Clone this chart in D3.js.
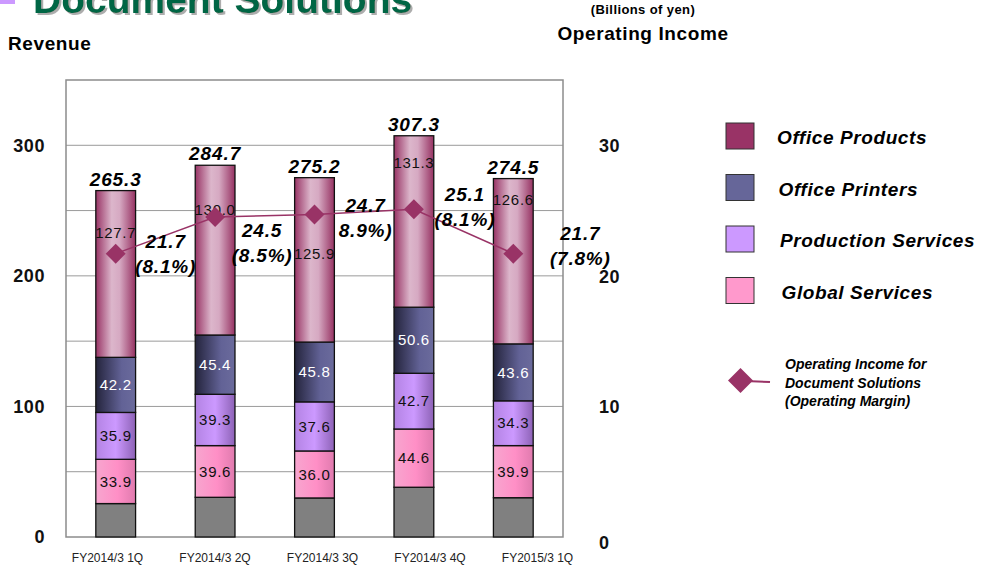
<!DOCTYPE html>
<html>
<head>
<meta charset="utf-8">
<script src="https://cdn.jsdelivr.net/npm/d3@7"></script>
<style>
    body { margin: 0; background: #fff; }
    svg { display: block; font-family: Arial, "Liberation Sans", sans-serif; }
</style>
</head>
<body>
<div id="chart"></div>
<script>
// quarters on the x axis
const quarters = ["FY2014/3 1Q", "FY2014/3 2Q", "FY2014/3 3Q", "FY2014/3 4Q", "FY2015/3 1Q"];

// revenue by segment (billions of yen)
const otherRevenue = [25.6, 30.4, 29.9, 38.1, 30.1];
const globalServices = [33.9, 39.6, 36.0, 44.6, 39.9];
const productionServices = [35.9, 39.3, 37.6, 42.7, 34.3];
const officePrinters = [42.2, 45.4, 45.8, 50.6, 43.6];
const officeProducts = [127.7, 130.0, 125.9, 131.3, 126.6];
const totals = ["265.3", "284.7", "275.2", "307.3", "274.5"];

// operating income and margin
const operatingIncome = [21.7, 24.5, 24.7, 25.1, 21.7];
const operatingMargin = ["(8.1%)", "(8.5%)", "8.9%)", "(8.1%)", "(7.8%)"];

const revenueTicks = [0, 100, 200, 300];
const incomeTicks = [0, 10, 20, 30];

// where labels sit (layout only)
const productsLabelAt = [233, 250.6, 217, 286.6, 258];
const incomeLabelOffset = [[50, -6], [47, 20], [51, -2], [51, -8], [67, -14]];

let vis = {};
vis.margin = {top: 80, right: 421, bottom: 34, left: 66};
vis.width = 984 - vis.margin.left - vis.margin.right;
vis.height = 571 - vis.margin.top - vis.margin.bottom;

vis.svg = d3.select("#chart").append("svg")
    .attr("width", 984)
    .attr("height", 571);

// gradients for the bar segments
let defs = vis.svg.append("defs");
const grads = {
    products: [["0%", "#983465"], ["40%", "#dcb6cb"], ["60%", "#d6a9c2"], ["100%", "#963262"]],
    printers: [["0%", "#24243c"], ["65%", "#626296"], ["100%", "#6b6b9c"]],
    production: [["0%", "#b383e3"], ["50%", "#cc99ff"], ["100%", "#8d62b6"]],
    global: [["0%", "#f7a6cf"], ["55%", "#ff8fc6"], ["100%", "#e07aae"]]
};
Object.keys(grads).forEach(k => {
    let g = defs.append("linearGradient").attr("id", "g-" + k)
        .attr("x1", "0").attr("x2", "1").attr("y1", "0").attr("y2", "0");
    grads[k].forEach(s => g.append("stop").attr("offset", s[0]).attr("stop-color", s[1]));
});
defs.append("filter").attr("id", "shadow")
    .append("feDropShadow").attr("dx", 2).attr("dy", 2).attr("stdDeviation", 0.6)
    .attr("flood-color", "#999").attr("flood-opacity", 0.8);

// title (cut off at the top, as in the slide)
vis.svg.append("rect").attr("x", 0).attr("y", 0).attr("width", 15).attr("height", 4).attr("fill", "#cc99ff");
vis.svg.append("text").attr("x", 33).attr("y", 13)
    .attr("font-size", 39).attr("font-weight", "bold").attr("fill", "#006644")
    .attr("filter", "url(#shadow)")
    .text("Document Solutions");

vis.svg.append("text").attr("x", 8).attr("y", 50)
    .attr("font-size", 19).attr("font-weight", "bold").attr("letter-spacing", 0.6).text("Revenue");
vis.svg.append("text").attr("x", 643).attr("y", 14).attr("text-anchor", "middle")
    .attr("font-size", 13).attr("font-weight", "bold").attr("letter-spacing", 0.4).text("(Billions of yen)");
vis.svg.append("text").attr("x", 643).attr("y", 40).attr("text-anchor", "middle")
    .attr("font-size", 19).attr("font-weight", "bold").attr("letter-spacing", 0.6).text("Operating Income");

let g = vis.svg.append("g")
    .attr("transform", "translate(" + vis.margin.left + "," + vis.margin.top + ")");

// scales
vis.x = d3.scaleBand().domain(quarters).range([0, vis.width]).paddingInner(0.6).paddingOuter(0.3);
vis.xLabel = d3.scalePoint().domain(quarters).range([41, 471]);
vis.y = d3.scaleLinear().domain([0, 350]).range([vis.height, 0]);
vis.y2 = d3.scaleLinear().domain([0, 35]).range([vis.height, 0]);

// gridlines
g.selectAll(".grid").data(d3.range(50, 350, 50)).enter().append("line")
    .attr("x1", 0).attr("x2", vis.width)
    .attr("y1", d => vis.y(d)).attr("y2", d => vis.y(d))
    .attr("stroke", "#9a9a9a").attr("stroke-width", 1);
g.append("rect").attr("width", vis.width).attr("height", vis.height)
    .attr("fill", "none").attr("stroke", "#8c8c8c").attr("stroke-width", 1.5);

// axes
let yAxis = g.append("g").attr("transform", "translate(-18,0)")
    .call(d3.axisLeft(vis.y).tickValues(revenueTicks).tickSize(0));
let y2Axis = g.append("g").attr("transform", "translate(" + (vis.width + 33) + ",0)")
    .call(d3.axisRight(vis.y2).tickValues(incomeTicks).tickSize(0));
[yAxis, y2Axis].forEach(a => {
    a.select(".domain").remove();
    a.selectAll("text").attr("font-size", 18).attr("font-weight", "bold").attr("fill", "#111")
        .attr("letter-spacing", 0.6)
        .attr("font-family", "Arial, 'Liberation Sans', sans-serif");
});
y2Axis.selectAll(".tick").attr("transform", d => "translate(0," + (vis.y2(d) + (d === 0 ? 6 : 1)) + ")");

let xAxis = g.append("g").attr("transform", "translate(0," + vis.height + ")")
    .call(d3.axisBottom(vis.xLabel).tickSize(0).tickPadding(16));
xAxis.select(".domain").remove();
xAxis.selectAll("text").attr("font-size", 12).attr("fill", "#222")
    .attr("font-family", "Arial, 'Liberation Sans', sans-serif");

// stacked bars
const series = [
    {key: "other", values: otherRevenue, fill: "#808080", label: null},
    {key: "global", values: globalServices, fill: "url(#g-global)", label: "#111"},
    {key: "production", values: productionServices, fill: "url(#g-production)", label: "#111"},
    {key: "printers", values: officePrinters, fill: "url(#g-printers)", label: "#fff"},
    {key: "products", values: officeProducts, fill: "url(#g-products)", label: "#111"}
];
let rows = quarters.map((q, i) => {
    let r = {quarter: q};
    series.forEach(s => r[s.key] = s.values[i]);
    return r;
});
let stack = d3.stack().keys(series.map(s => s.key))(rows);

stack.forEach((layer, li) => {
    let s = series[li];
    g.selectAll(".seg-" + s.key).data(layer).enter().append("rect")
        .attr("x", d => vis.x(d.data.quarter))
        .attr("y", d => vis.y(d[1]))
        .attr("width", vis.x.bandwidth())
        .attr("height", d => vis.y(d[0]) - vis.y(d[1]))
        .attr("fill", s.fill)
        .attr("stroke", "#111").attr("stroke-width", 1.3);
    if (s.label) {
        g.selectAll(".lab-" + s.key).data(layer).enter().append("text")
            .attr("x", d => vis.x(d.data.quarter) + vis.x.bandwidth() / 2)
            .attr("y", (d, i) => s.key === "products" ? vis.y(productsLabelAt[i]) : vis.y((d[0] + d[1]) / 2))
            .attr("dy", "0.35em")
            .attr("text-anchor", "middle")
            .attr("font-size", 15)
            .attr("letter-spacing", 0.7)
            .attr("fill", s.label)
            .text(d => d.data[s.key].toFixed(1));
    }
});

// totals above bars
g.selectAll(".total").data(stack[stack.length - 1]).enter().append("text")
    .attr("x", d => vis.x(d.data.quarter) + vis.x.bandwidth() / 2)
    .attr("y", d => vis.y(d[1]) - 5)
    .attr("text-anchor", "middle")
    .attr("font-size", 19).attr("font-weight", "bold").attr("font-style", "italic")
    .attr("letter-spacing", 0.9)
    .text((d, i) => totals[i]);

// operating income line
let cx = i => vis.x(quarters[i]) + vis.x.bandwidth() / 2;
g.append("path").datum(operatingIncome)
    .attr("fill", "none").attr("stroke", "#993366").attr("stroke-width", 1.5)
    .attr("d", d3.line().x((d, i) => cx(i)).y(d => vis.y2(d)));
g.selectAll(".pt").data(operatingIncome).enter().append("path")
    .attr("transform", (d, i) => "translate(" + cx(i) + "," + vis.y2(d) + ")")
    .attr("d", "M0,-10L10,0L0,10L-10,0Z")
    .attr("fill", "#993366");

let incLab = g.selectAll(".inc").data(operatingIncome).enter().append("text")
    .attr("text-anchor", "middle")
    .attr("font-size", 19).attr("font-weight", "bold").attr("font-style", "italic")
    .attr("letter-spacing", 0.8)
    .attr("transform", (d, i) => "translate(" + (cx(i) + incomeLabelOffset[i][0]) + "," + (vis.y2(d) + incomeLabelOffset[i][1]) + ")");
incLab.append("tspan").attr("x", 0).attr("y", 0).text(d => d.toFixed(1));
incLab.append("tspan").attr("x", 0).attr("y", 25).text((d, i) => operatingMargin[i]);

// legend
const legendNames = ["Office Products", "Office Printers", "Production Services", "Global Services"];
const legendColors = ["#993366", "#666699", "#cc99ff", "#ff99cc"];
let lg = vis.svg.append("g");
legendNames.forEach((n, i) => {
    let yy = 123 + i * 51.5;
    lg.append("rect").attr("x", 726).attr("y", yy).attr("width", 28).attr("height", 26)
        .attr("fill", legendColors[i]).attr("stroke", "#333").attr("stroke-width", 1);
    lg.append("text").attr("x", 777 + i * 1.5).attr("y", yy + 21)
        .attr("font-size", 19).attr("font-weight", "bold").attr("font-style", "italic")
        .attr("letter-spacing", 0.6)
        .text(n);
});
lg.append("line").attr("x1", 745).attr("x2", 770).attr("y1", 381).attr("y2", 382)
    .attr("stroke", "#993366").attr("stroke-width", 2);
lg.append("path").attr("transform", "translate(740.5,380.5)")
    .attr("d", "M0,-12.5L12.5,0L0,12.5L-12.5,0Z").attr("fill", "#993366");
["Operating Income for", "Document Solutions", "(Operating Margin)"].forEach((t, i) => {
    lg.append("text").attr("x", 785).attr("y", 369 + i * 18.5)
        .attr("font-size", 14).attr("font-weight", "bold").attr("font-style", "italic")
        .text(t);
});
</script>
</body>
</html>
